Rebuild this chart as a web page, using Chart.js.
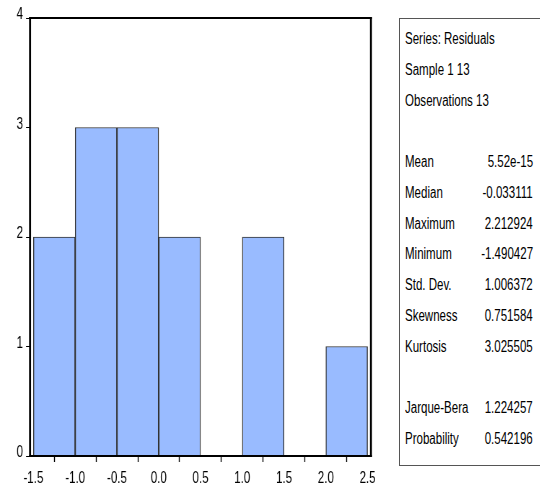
<!DOCTYPE html>
<html>
<head>
<meta charset="utf-8">
<script src="https://cdn.jsdelivr.net/npm/chart.js@4/dist/chart.umd.min.js"></script>
<style>
  html, body { margin: 0; padding: 0; background: #fff; overflow: hidden; }
  body { width: 540px; height: 488px; position: relative; }
  #plot { position: absolute; left: 0; top: 0; height: 488px; transform-origin: 0 0; }
  #stats {
    position: absolute; left: 399px; top: 18px; width: 141px; height: 448px;
    box-sizing: border-box; border: 1px solid #555; border-right: none; padding-top: 5px;
    font-family: "Liberation Sans", Arial, sans-serif;
    font-size: 16px; color: #000;
  }
  .row { position: relative; height: 30.75px; line-height: 30.75px; white-space: nowrap; }
  .row .lab { position: absolute; left: 5px; transform-origin: 0 50%; }
  .row .val { position: absolute; right: 7px; transform-origin: 100% 50%; }
</style>
</head>
<body>
<div id="plot"><canvas id="hist"></canvas></div>
<div id="stats"></div>
<script>
// Histogram bins of the residuals
const binEdges = [-1.5, -1.0, -0.5, 0.0, 0.5, 1.0, 1.5, 2.0, 2.5];
const binCounts = [2, 3, 3, 2, 0, 2, 0, 1];
const xTickValues = [-1.5, -1.0, -0.5, 0.0, 0.5, 1.0, 1.5, 2.0, 2.5];
const yTickValues = [0, 1, 2, 3, 4];

// Descriptive statistics panel
const headerLines = ['Series: Residuals', 'Sample 1 13', 'Observations 13'];
const statNames = ['Mean', 'Median', 'Maximum', 'Minimum', 'Std. Dev.', 'Skewness', 'Kurtosis'];
const statValues = ['5.52e-15', '-0.033111', '2.212924', '-1.490427', '1.006372', '0.751584', '3.025505'];
const testNames = ['Jarque-Bera', 'Probability'];
const testValues = ['1.224257', '0.542196'];

// Narrow lettering: everything is drawn wide and squeezed horizontally
const SQ = 0.72;
const FONT = '"Liberation Sans", Arial, sans-serif';

// Statistics panel as text rows
const stats = document.getElementById('stats');
function addRow(label, value) {
  const r = document.createElement('div');
  r.className = 'row';
  if (label) {
    const a = document.createElement('span');
    a.className = 'lab'; a.textContent = label;
    a.style.transform = `scaleX(${SQ})`;
    r.appendChild(a);
  }
  if (value) {
    const b = document.createElement('span');
    b.className = 'val'; b.textContent = value;
    b.style.transform = `scaleX(${SQ})`;
    r.appendChild(b);
  }
  stats.appendChild(r);
}
headerLines.forEach(l => addRow(l, ''));
addRow('', '');
statNames.forEach((n, i) => addRow(n, statValues[i]));
addRow('', '');
testNames.forEach((n, i) => addRow(n, testValues[i]));

// Histogram canvas, squeezed to 380px wide on screen
const plot = document.getElementById('plot');
plot.style.width = (380 / SQ) + 'px';
plot.style.transform = `scaleX(${SQ})`;

const binCenters = binCounts.map((_, i) => (binEdges[i] + binEdges[i + 1]) / 2);
const barData = binCounts.map((c, i) => ({ x: binCenters[i], y: c }));

// Black frame around the plotting area
const frame = {
  id: 'frame',
  afterDraw(chart) {
    const { ctx, chartArea: a } = chart;
    ctx.save();
    ctx.strokeStyle = '#000';
    ctx.lineWidth = 2;
    ctx.beginPath();
    ctx.moveTo(a.left - 1 / SQ, a.top); ctx.lineTo(a.right + 1 / SQ, a.top);
    ctx.moveTo(a.left - 1 / SQ, a.bottom); ctx.lineTo(a.right + 1 / SQ, a.bottom);
    ctx.stroke();
    ctx.lineWidth = 2 / SQ;
    ctx.beginPath();
    ctx.moveTo(a.left, a.top - 1); ctx.lineTo(a.left, a.bottom + 1);
    ctx.moveTo(a.right, a.top - 1); ctx.lineTo(a.right, a.bottom + 1);
    ctx.stroke();
    ctx.restore();
  }
};

new Chart(document.getElementById('hist'), {
  type: 'bar',
  data: {
    datasets: [{
      data: barData,
      backgroundColor: '#99bbff',
      borderColor: '#333333',
      borderWidth: { top: 1, left: 1 / SQ, right: 1 / SQ, bottom: 0 },
      barPercentage: 1,
      categoryPercentage: 1
    }]
  },
  options: {
    animation: false,
    responsive: true,
    maintainAspectRatio: false,
    layout: { padding: { top: 18, right: 8 / SQ, left: 0, bottom: 0 } },
    plugins: { legend: { display: false }, tooltip: { enabled: false } },
    scales: {
      x: {
        type: 'linear',
        min: -1.54,
        max: 2.54,
        offset: false,
        afterFit(s) { s.height = 32; },
        afterBuildTicks(s) { s.ticks = xTickValues.map(v => ({ value: v })); },
        border: { display: false },
        grid: { display: true, drawOnChartArea: false, drawTicks: true, tickLength: 6, tickColor: '#000', tickWidth: 1 / SQ },
        ticks: {
          color: '#000', padding: 7, maxRotation: 0, autoSkip: false,
          font: { family: FONT, size: 16 },
          callback: v => Number(v).toFixed(1)
        }
      },
      y: {
        min: 0,
        max: 4,
        afterFit(s) { s.width = 30 / SQ; },
        afterBuildTicks(s) { s.ticks = yTickValues.map(v => ({ value: v })); },
        border: { display: false },
        grid: { display: true, drawOnChartArea: false, drawTicks: true, tickLength: 4 / SQ, tickColor: '#000', tickWidth: 1 },
        ticks: {
          color: '#000', padding: 3 / SQ, labelOffset: -3,
          font: { family: FONT, size: 16 },
          callback: v => String(v)
        }
      }
    }
  },
  plugins: [frame]
});
</script>
</body>
</html>
